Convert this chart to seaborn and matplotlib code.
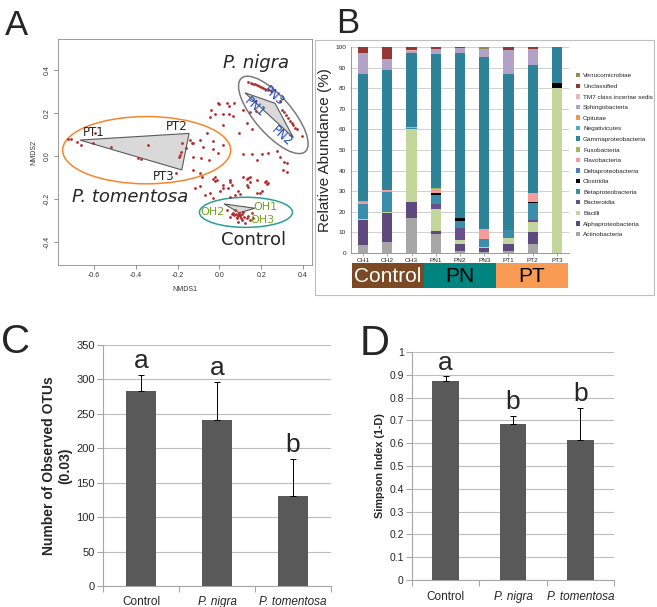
import numpy as np
import pandas as pd
import seaborn as sns
import matplotlib
matplotlib.use("Agg")
import matplotlib.pyplot as plt
from matplotlib.patches import Ellipse, Polygon, Rectangle, Patch

# ---------------- panel A: NMDS ordination ----------------
nmds_x = [
    # around the P. tomentosa samples
    -0.723, -0.710, -0.683, -0.664, -0.603, -0.595, -0.519, -0.388, -0.375, -0.343,
    -0.189, -0.184, -0.193, -0.177, -0.209,
    # middle cloud
    0.000, 0.035, 0.046, 0.070, -0.042, -0.021, 0.019, 0.046, 0.067, 0.111,
    0.146, 0.175, 0.131, 0.155, 0.019, 0.095, -0.061, -0.125, -0.093, -0.080,
    -0.029, -0.029, -0.005, 0.019, -0.089, -0.048, -0.125, -0.085, -0.029, -0.013,
    0.016, 0.051, -0.021, 0.111, 0.131, 0.146, 0.178, 0.114, 0.155, 0.181,
    0.202, 0.234, 0.274, 0.290, 0.309, 0.322, 0.223, 0.234, -0.117, 0.043,
    0.138, -0.160, -0.141, -0.045, -0.005, 0.322, 0.306, 0.138, -0.133, -0.126,
    -0.093,
    # along the P. nigra samples
    0.138, 0.150, 0.160, 0.170, 0.180, 0.190, 0.200, 0.210, 0.220, 0.232,
    0.245, 0.290, 0.300, 0.310, 0.320, 0.328, 0.338, 0.346, 0.354, 0.362,
    0.372, 0.394,
    # around the control samples
    -0.093, -0.021, 0.051, 0.059, 0.131, 0.146, 0.218, 0.229, 0.178, 0.194,
    0.202, -0.069, -0.045, -0.029, 0.003, 0.019, 0.051, 0.075, 0.099, 0.090,
    0.035, 0.067, 0.083, 0.099, 0.107, 0.114, 0.131, 0.146, 0.051, 0.075,
    0.090, 0.122, 0.138, 0.155, 0.162, 0.080, 0.090, 0.100, 0.085, 0.110,
    0.070, 0.095, 0.120, 0.105, 0.060,
]
nmds_y = [
    0.079, 0.079, 0.067, 0.051, 0.059, 0.105, 0.043, -0.011, -0.016, 0.051,
    0.005, 0.020, -0.003, 0.062, -0.081,
    0.242, 0.245, 0.233, 0.245, 0.214, 0.195, 0.195, 0.195, 0.186, 0.214,
    0.206, 0.211, 0.152, 0.124, 0.144, 0.108, 0.105, 0.059, 0.074, 0.043,
    0.071, 0.031, 0.013, 0.051, -0.011, -0.019, -0.065, -0.099, -0.108, -0.112,
    -0.135, -0.120, -0.099, -0.099, -0.108, -0.099, -0.112, 0.009, 0.009, -0.019,
    0.008, 0.013, 0.025, -0.003, -0.027, -0.073, -0.115, -0.127, -0.150, -0.150,
    -0.143, 0.036, 0.074, 0.180, 0.245, -0.034, -0.065, -0.104, 0.059, -0.003,
    -0.081,
    0.346, 0.341, 0.337, 0.333, 0.329, 0.325, 0.320, 0.316, 0.312, 0.307,
    0.300, 0.255, 0.215, 0.205, 0.190, 0.175, 0.162, 0.152, 0.143, 0.132,
    0.125, 0.093,
    -0.140, -0.115, -0.112, -0.135, -0.135, -0.120, -0.120, -0.130, -0.171, -0.174,
    -0.161, -0.181, -0.174, -0.197, -0.161, -0.150, -0.189, -0.181, -0.177, -0.161,
    -0.251, -0.264, -0.282, -0.274, -0.298, -0.259, -0.290, -0.298, -0.282, -0.251,
    -0.306, -0.313, -0.279, -0.267, -0.290, -0.270, -0.275, -0.280, -0.290, -0.270,
    -0.275, -0.265, -0.285, -0.290, -0.270,
]

pt_hull_x = [-0.667, -0.145, -0.180]
pt_hull_y = [0.074, 0.105, -0.065]
pn_hull_x = [0.122, 0.266, 0.354]
pn_hull_y = [0.294, 0.245, 0.085]
oh_hull_x = [0.022, 0.170, 0.095]
oh_hull_y = [-0.223, -0.243, -0.264]

# ellipse: centre x, centre y, width, height, angle
pt_ellipse = [-0.348, 0.027, 0.804, 0.313, 0]
pn_ellipse = [0.258, 0.191, 0.458, 0.175, -48]
oh_ellipse = [0.127, -0.262, 0.445, 0.140, 0]

# ---------------- panel B: class composition ----------------
samples = ["OH1", "OH2", "OH3", "PN1", "PN2", "PN3", "PT1", "PT2", "PT3"]
actinobacteria = [4, 5.5, 17, 9, 1, 0.5, 1, 4.5, 0]
alphaproteobacteria = [12, 14, 8, 1.5, 3.5, 2, 3.5, 5.5, 0]
bacilli = [0.5, 0.5, 35, 11, 2, 0.5, 3, 5, 80]
bacteroidia = [0, 0, 0, 2.5, 5.5, 0, 0, 1, 0]
betaproteobacteria = [7.5, 9.5, 0.8, 4, 3.5, 4, 3.5, 8.5, 0]
clostridia = [0, 0, 0, 1, 1.5, 0, 0, 0.5, 2.5]
deltaproteobacteria = [0, 0, 0, 0, 0, 0, 0, 0, 0]
flavobacteria = [1, 1, 0.4, 2, 0, 4.5, 0.3, 4, 0]
fusobacteria = [0.3, 0, 0, 0.5, 0, 0, 0, 0, 0]
gammaproteobacteria = [61.7, 58.5, 35.8, 65, 80, 83.5, 75.7, 62.5, 17.5]
negativicutes = [0, 0, 0, 0, 0, 0, 0, 0, 0]
opitutae = [0, 0, 0, 0, 0, 0, 0, 0, 0]
sphingobacteria = [10, 5, 1, 2.5, 2.5, 4, 11.5, 7.5, 0]
tm7 = [0, 0, 0.5, 0, 0, 0, 0, 0, 0]
unclassified = [3, 6, 1.5, 1, 0.5, 0, 1.5, 1, 0]
verrucomicrobiae = [0, 0, 0, 0, 0.5, 1, 0, 0, 0]

taxa = [
    ("Actinobacteria", actinobacteria, "#A6A6A6"),
    ("Alphaproteobacteria", alphaproteobacteria, "#5E4A7E"),
    ("Bacilli", bacilli, "#C3D69B"),
    ("Bacteroidia", bacteroidia, "#674F8F"),
    ("Betaproteobacteria", betaproteobacteria, "#3B8DAC"),
    ("Clostridia", clostridia, "#000000"),
    ("Deltaproteobacteria", deltaproteobacteria, "#4F81BD"),
    ("Flavobacteria", flavobacteria, "#F59B9B"),
    ("Fusobacteria", fusobacteria, "#9BBB59"),
    ("Gammaproteobacteria", gammaproteobacteria, "#2F8399"),
    ("Negativicutes", negativicutes, "#4BACC6"),
    ("Opitutae", opitutae, "#F79646"),
    ("Sphingobacteria", sphingobacteria, "#B3A2C7"),
    ("TM7 class incertae sedis", tm7, "#E6B9B8"),
    ("Unclassified", unclassified, "#953735"),
    ("Verrucomicrobiae", verrucomicrobiae, "#948A54"),
]
sample_groups = ["Control", "PN", "PT"]
group_colors = ["#7B4A25", "#00847F", "#F99B52"]
group_text = ["white", "black", "black"]

# ---------------- panels C and D ----------------
treatments = ["Control", "P. nigra", "P. tomentosa"]
otus = [283, 241, 131]
otus_err = [24, 55, 53]
otus_letters = ["a", "a", "b"]
simpson = [0.875, 0.683, 0.614]
simpson_err = [0.02, 0.037, 0.141]
simpson_letters = ["a", "b", "b"]

W, H = 657, 607


def box(l, t, r, b):
    # pixel box -> figure fraction rect
    return [l / W, 1 - b / H, (r - l) / W, (b - t) / H]


sns.set_theme(style="white")
plt.rcParams["font.family"] = ["Liberation Sans", "DejaVu Sans"]

fig = plt.figure(figsize=(W / 100, H / 100), dpi=100)

# ---------- A ----------
axA = fig.add_axes(box(58, 39, 312, 265))
for hx, hy in [(pt_hull_x, pt_hull_y), (pn_hull_x, pn_hull_y), (oh_hull_x, oh_hull_y)]:
    axA.add_patch(Polygon(list(zip(hx, hy)), closed=True, facecolor="#D9D9D9",
                          edgecolor="#5A5A5A", lw=0.8, zorder=1))
sns.scatterplot(x=nmds_x, y=nmds_y, ax=axA, color="#B52A2A", s=4, linewidth=0, zorder=3)
for e, col in [(pt_ellipse, "#F7862A"), (pn_ellipse, "#7A7A7A"), (oh_ellipse, "#2A9D9D")]:
    axA.add_patch(Ellipse((e[0], e[1]), e[2], e[3], angle=e[4], fill=False,
                          edgecolor=col, lw=1.1, zorder=2))
axA.set_xlim(-0.772, 0.443)
axA.set_ylim(-0.507, 0.544)
axA.set_xticks([-0.6, -0.4, -0.2, 0.0, 0.2, 0.4])
axA.set_xticklabels(["%.1f" % v for v in [-0.6, -0.4, -0.2, 0.0, 0.2, 0.4]])
axA.set_yticks([-0.4, -0.2, 0.0, 0.2, 0.4])
axA.set_yticklabels(["%.1f" % v for v in [-0.4, -0.2, 0.0, 0.2, 0.4]], rotation=90, va="center")
axA.tick_params(labelsize=5, length=3, width=0.5, color="#666666", labelcolor="#333333",
                bottom=True, left=True, pad=2)
for s in axA.spines.values():
    s.set_color("#8C8C8C")
    s.set_linewidth(0.6)
axA.set_xlabel("NMDS1", fontsize=5, labelpad=5, color="#333333")
axA.set_ylabel("NMDS2", fontsize=5, labelpad=5, color="#333333")

dv = ["DejaVu Sans"]
axA.text(0.174, 0.431, "P. nigra", fontsize=13, style="italic", ha="center", va="center", family=dv)
axA.text(-0.428, -0.189, "P. tomentosa", fontsize=13, style="italic", ha="center", va="center", family=dv)
axA.text(0.162, -0.391, "Control", fontsize=13, ha="center", va="center", family=dv)
for lab, x, y in [("PT1", -0.603, 0.108), ("PT2", -0.204, 0.136), ("PT3", -0.268, -0.096)]:
    axA.text(x, y, lab, fontsize=8.5, ha="center", va="center", family=dv)
for lab, x, y in [("PN3", 0.258, 0.276), ("PN1", 0.170, 0.226), ("PN2", 0.298, 0.090)]:
    axA.text(x, y, lab, fontsize=8.5, ha="center", va="center", rotation=-42,
             color="#1F44B0", family=dv)
for lab, x, y in [("OH1", 0.220, -0.236), ("OH2", -0.034, -0.259), ("OH3", 0.204, -0.299)]:
    axA.text(x, y, lab, fontsize=8, ha="center", va="center", color="#73A31F", family=dv)

# ---------- B ----------
fig.add_artist(Rectangle((315 / W, 1 - 295 / H), 339 / W, 255 / H, transform=fig.transFigure,
                         fill=False, edgecolor="#BFBFBF", lw=0.8))
axB = fig.add_axes(box(351, 47, 569, 253))
stack = np.cumsum(np.array([t[1] for t in taxa], dtype=float), axis=0)
for i in range(len(taxa) - 1, -1, -1):
    sns.barplot(x=samples, y=stack[i], order=samples, color=taxa[i][2], width=0.42,
                saturation=1, linewidth=0, errorbar=None, ax=axB, zorder=3)
axB.set_xlim(-0.5, 8.5)
axB.set_ylim(0, 100)
axB.set_yticks(range(0, 101, 10))
axB.yaxis.grid(True, color="#C8C8C8", lw=0.6)
axB.set_axisbelow(True)
axB.tick_params(labelsize=4.6, length=2, width=0.5, color="#888888", bottom=True, pad=1.5)
for k in ["top", "right"]:
    axB.spines[k].set_visible(False)
for k in ["left", "bottom"]:
    axB.spines[k].set_color("#888888")
    axB.spines[k].set_linewidth(0.6)
axB.set_ylabel("Relative Abundance (%)", fontsize=11, labelpad=2)
axB.set_xlabel("")

handles = [Patch(facecolor=t[2], edgecolor="none") for t in taxa][::-1]
labels = [t[0] for t in taxa][::-1]
fig.legend(handles, labels, loc="upper left", bbox_to_anchor=(576 / W, 1 - 73 / H),
           bbox_transform=fig.transFigure, frameon=False, fontsize=4.6,
           handlelength=0.7, handleheight=0.7, handletextpad=0.4, labelspacing=0.8,
           borderpad=0, borderaxespad=0)

axG = fig.add_axes(box(352, 263, 568, 288))
sns.barplot(x=sample_groups, y=[1, 1, 1], hue=sample_groups, palette=group_colors,
            width=1.0, saturation=1, linewidth=0, legend=False, ax=axG)
axG.set_xlim(-0.5, 2.5)
axG.set_ylim(0, 1)
axG.axis("off")
for i, g in enumerate(sample_groups):
    axG.text(i, 0.45, g, ha="center", va="center", fontsize=15, color=group_text[i])

# ---------- C and D ----------
def diversity_panel(ax, values, errs, letters, ylim, step, ylabel, ylab_size, tick_size,
                    letter_off, xpad):
    sns.barplot(x=treatments, y=values, order=treatments, color="#595959", width=0.4,
                saturation=1, linewidth=0, errorbar=None, ax=ax, zorder=3)
    ax.errorbar(range(3), values, yerr=[[0, 0, 0], errs], fmt="none", ecolor="black",
                elinewidth=0.7, capsize=2.5, capthick=0.7, zorder=4)
    for i, v in enumerate(values):
        ax.text(i, v + errs[i] + letter_off, letters[i], ha="center", va="baseline",
                fontsize=19)
    ax.set_xlim(-0.5, 2.5)
    ax.set_ylim(0, ylim)
    ax.set_yticks(np.arange(0, ylim + step / 2, step))
    ax.yaxis.grid(True, color="#BDBDBD", lw=0.8)
    ax.set_axisbelow(True)
    for k in ["top", "right"]:
        ax.spines[k].set_visible(False)
    for k in ["left", "bottom"]:
        ax.spines[k].set_color("#A6A6A6")
        ax.spines[k].set_linewidth(0.8)
    ax.set_xticks([-0.5, 0.5, 1.5, 2.5], minor=True)
    ax.tick_params(axis="x", which="major", length=0, labelsize=8.5, pad=xpad)
    ax.tick_params(axis="x", which="minor", bottom=True, length=4, width=0.8, color="#A6A6A6")
    ax.tick_params(axis="y", left=True, length=4, width=0.8, color="#A6A6A6",
                   labelsize=tick_size, pad=2)
    for lab in ax.get_xticklabels():
        if lab.get_text().startswith("P."):
            lab.set_fontstyle("italic")
    ax.set_ylabel(ylabel, fontsize=ylab_size, fontweight="bold", labelpad=3)
    ax.set_xlabel("")


axC = fig.add_axes(box(103, 345, 331, 586))
diversity_panel(axC, otus, otus_err, otus_letters, 350, 50,
                "Number of Observed OTUs\n(0.03)", 10, 8, 10, 7)

axD = fig.add_axes(box(412, 352, 614, 580))
diversity_panel(axD, simpson, simpson_err, simpson_letters, 1.0, 0.1,
                "Simpson Index (1-D)", 7.8, 7.5, 0.028, 8)
axD.set_yticklabels(["0"] + ["%.1f" % v for v in np.arange(0.1, 0.95, 0.1)] + ["1"])

# ---------- panel letters ----------
fig.text(5 / W, 1 - 35 / H, "A", fontsize=25, va="baseline")
fig.text(336 / W, 1 - 33 / H, "B", fontsize=25, va="baseline")
fig.text(1 / W, 1 - 353 / H, "C", fontsize=29, va="baseline")
fig.text(360 / W, 1 - 355 / H, "D", fontsize=30, va="baseline")

fig.savefig("out.png", dpi=100)
